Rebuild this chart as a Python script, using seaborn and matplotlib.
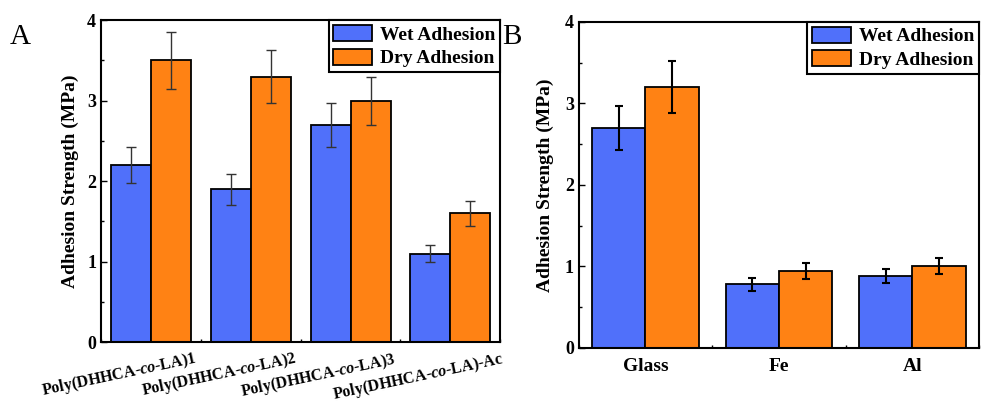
import numpy as np
import pandas as pd
import matplotlib
matplotlib.use("Agg")
import matplotlib.pyplot as plt
import matplotlib.transforms as mtransforms
from matplotlib.ticker import MultipleLocator
import seaborn as sns

# data
polymers = ["Poly(DHHCA-$\\mathit{co}$-LA)1", "Poly(DHHCA-$\\mathit{co}$-LA)2",
            "Poly(DHHCA-$\\mathit{co}$-LA)3", "Poly(DHHCA-$\\mathit{co}$-LA)-Ac"]
wet_a = [2.2, 1.9, 2.7, 1.1]
dry_a = [3.5, 3.3, 3.0, 1.6]
wet_a_err = [0.22, 0.19, 0.27, 0.11]
dry_a_err = [0.35, 0.33, 0.30, 0.16]

substrates = ["Glass", "Fe", "Al"]
wet_b = [2.7, 0.78, 0.88]
dry_b = [3.2, 0.94, 1.0]
wet_b_err = [0.27, 0.08, 0.09]
dry_b_err = [0.32, 0.095, 0.10]

series = ["Wet Adhesion", "Dry Adhesion"]
colors = ["#5070fa", "#ff8214"]

sns.set_theme(style="ticks")
plt.rcParams["font.family"] = ["Liberation Serif", "DejaVu Serif"]
plt.rcParams["font.weight"] = "bold"
plt.rcParams["axes.labelweight"] = "bold"
plt.rcParams["mathtext.fontset"] = "custom"
plt.rcParams["mathtext.rm"] = "Liberation Serif:bold"
plt.rcParams["mathtext.it"] = "Liberation Serif:italic:bold"
plt.rcParams["xtick.direction"] = "in"
plt.rcParams["ytick.direction"] = "in"
for k in ["text.color", "axes.labelcolor", "xtick.color", "ytick.color", "axes.edgecolor"]:
    plt.rcParams[k] = "black"


def make_df(cats, wet, dry):
    return pd.DataFrame({
        "cat": cats * 2,
        "val": wet + dry,
        "kind": [series[0]] * len(cats) + [series[1]] * len(cats),
    })


def draw_panel(ax, cats, wet, dry, errs, ecolor, elw, cap):
    df = make_df(cats, wet, dry)
    sns.barplot(data=df, x="cat", y="val", hue="kind", palette=colors,
                edgecolor="black", linewidth=1.3, width=0.8, gap=0,
                saturation=1, errorbar=None, ax=ax)
    # error bars on top of each bar
    for cont, err in zip(ax.containers, errs):
        xs = [p.get_x() + p.get_width() / 2 for p in cont]
        ys = [p.get_height() for p in cont]
        ax.errorbar(xs, ys, yerr=err, fmt="none", ecolor=ecolor,
                    elinewidth=elw, capsize=cap, capthick=elw, zorder=3)
    ax.set_ylim(0, 4)
    ax.set_xlim(-0.5, len(cats) - 0.5)
    ax.yaxis.set_major_locator(MultipleLocator(1))
    ax.yaxis.set_minor_locator(MultipleLocator(0.5))
    ax.xaxis.set_minor_locator(MultipleLocator(1, offset=0.5))
    ax.tick_params(axis="both", which="major", length=4, width=1, labelsize=13)
    ax.tick_params(axis="both", which="minor", length=2.5, width=1)
    ax.tick_params(axis="x", which="major", length=0)
    for s in ax.spines.values():
        s.set_linewidth(1.5)
        s.set_color("black")
    ax.set_xlabel(None)
    ax.set_ylabel("Adhesion Strength (MPa)", fontsize=14, fontweight="bold")
    leg = ax.legend(loc="upper right", fontsize=14, frameon=True, fancybox=False,
                    borderaxespad=0, handlelength=2.0, handleheight=0.9,
                    handletextpad=0.4, borderpad=0.25, labelspacing=0.25,
                    edgecolor="black")
    leg.get_frame().set_linewidth(1.5)
    leg.get_frame().set_alpha(1)


fig = plt.figure(figsize=(9.81, 4.04), dpi=100)
ax_a = fig.add_axes([0.103, 0.153, 0.407, 0.797])
ax_b = fig.add_axes([0.590, 0.139, 0.408, 0.807])

draw_panel(ax_a, polymers, wet_a, dry_a, [wet_a_err, dry_a_err], "#333333", 1.0, 3.6)
draw_panel(ax_b, substrates, wet_b, dry_b, [wet_b_err, dry_b_err], "black", 1.5, 3.0)

# panel A tick labels: rotated and shifted left
ax_a.tick_params(axis="x", pad=5)
shift = mtransforms.ScaledTranslation(-0.32, 0, fig.dpi_scale_trans)
for lab in ax_a.get_xticklabels():
    lab.set_rotation(12)
    lab.set_ha("center")
    lab.set_fontsize(11.5)
    lab.set_transform(lab.get_transform() + shift)
ax_a.yaxis.labelpad = 6

ax_b.tick_params(axis="x", labelsize=14, pad=7)
ax_b.yaxis.labelpad = 8

fig.text(0.010, 0.89, "A", fontsize=21, fontweight="normal", ha="left")
fig.text(0.512, 0.89, "B", fontsize=21, fontweight="normal", ha="left")

fig.savefig("out.png", dpi=100)
